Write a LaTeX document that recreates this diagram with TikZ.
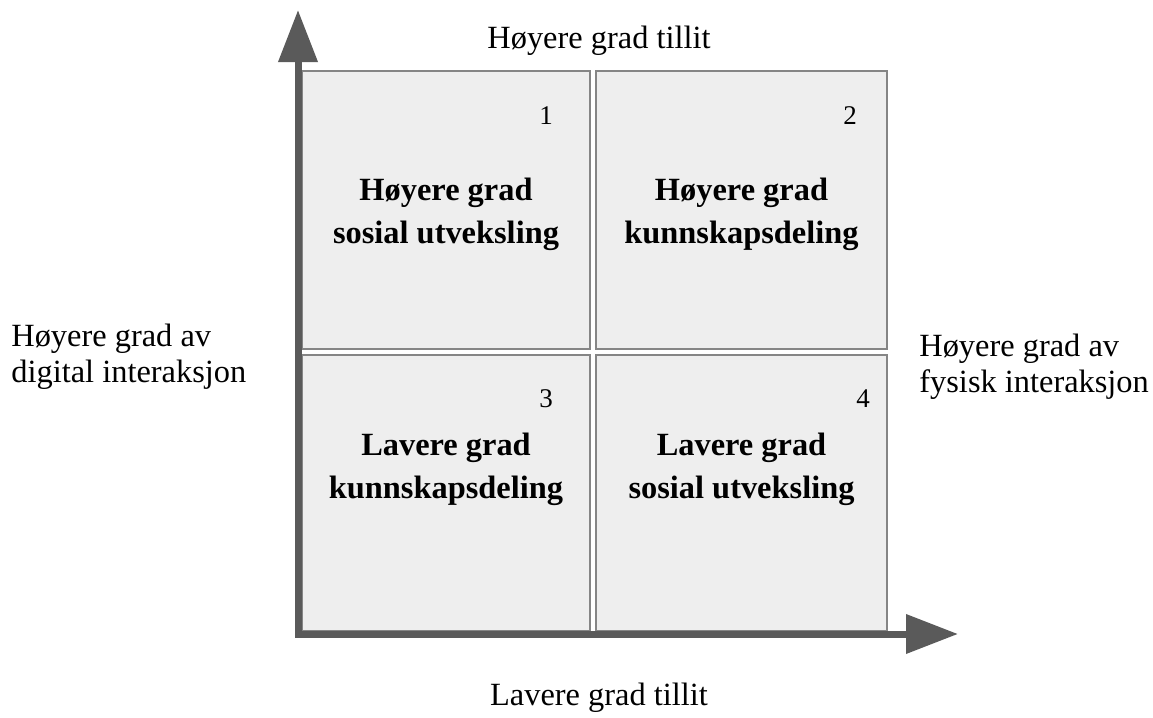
\documentclass[tikz,border=0pt]{standalone}
\usepackage{fontspec}
\setmainfont{Liberation Serif}
\usetikzlibrary{arrows.meta}

\definecolor{axisgray}{HTML}{5A5A5A}
\definecolor{boxfill}{HTML}{EEEEEE}
\definecolor{boxline}{HTML}{858585}

\tikzset{
	quadrant/.style={draw=boxline, line width=1.2pt, fill=boxfill, inner sep=0pt},
	quadtext/.style={font=\fontsize{16.2}{21.5}\selectfont\bfseries, align=center, anchor=base, inner sep=0pt},
	axislabel/.style={font=\fontsize{16.2}{17.8}\selectfont, align=left, inner sep=0pt},
	quadnum/.style={font=\fontsize{13.5}{15}\selectfont, anchor=base, inner sep=0pt}
}

\begin{document}
\begin{tikzpicture}[x=0.5pt, y=-0.5pt]
			\useasboundingbox (0,0) rectangle (1153,718);
			%boxes
			\foreach \q/\cx/\cy/\w/\h in {
				q1/446/210/288/278,
				q2/741.5/210/291/278,
				q3/446/493/288/276,
				q4/741.5/493/291/276}
			\node[quadrant, minimum width=\w*0.5pt, minimum height=\h*0.5pt] (\q) at (\cx,\cy) {};
			%axis
			\coordinate (origin) at (298,634);
			\coordinate (y tip) at (298,10);
			\coordinate (x tip) at (958,634);
			\draw[axisgray, line width=3.5pt, miter limit=10,
				{Triangle[width=19pt,length=26pt]}-{Triangle[width=19pt,length=26pt]}]
				(y tip) -- (origin) -- (x tip);
			%numbers
			\foreach \n/\nx/\ny in {1/546/124, 2/850/124, 3/546/407, 4/863/407}
			\node[quadnum] (num\n) at (\nx,\ny) {\n};
			%box texts (base = last line)
			\node[quadtext] (t1) at (q1.center |- 0,243) {Høyere grad\\sosial utveksling};
			\node[quadtext] (t2) at (q2.center |- 0,243) {Høyere grad\\kunnskapsdeling};
			\node[quadtext] (t3) at (q3.center |- 0,498) {Lavere grad\\kunnskapsdeling};
			\node[quadtext] (t4) at (q4.center |- 0,498) {Lavere grad\\sosial utveksling};
			%labels
			\node[axislabel, anchor=base] (top label) at (599,48) {Høyere grad tillit};
			\node[axislabel, anchor=base] (bottom label) at (599,705) {Lavere grad tillit};
			\node[axislabel, anchor=base west] (left label) at (11,382) {Høyere grad av\\digital interaksjon};
			\node[axislabel, anchor=base west] (right label) at (919,392) {Høyere grad av\\fysisk interaksjon};
\end{tikzpicture}
\end{document}
